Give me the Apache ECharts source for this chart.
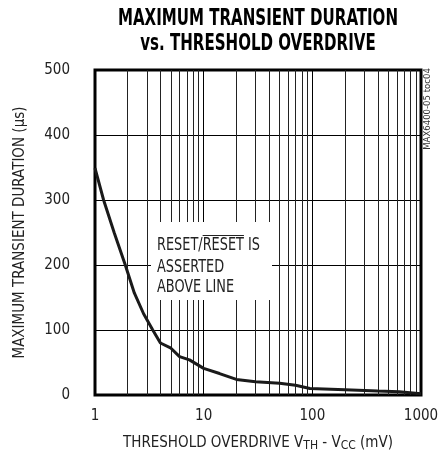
<!DOCTYPE html>
<html>
<head>
<meta charset="utf-8">
<script src="https://cdn.jsdelivr.net/npm/echarts@6/dist/echarts.min.js"></script>
<style>
html,body{margin:0;padding:0;background:#fff;}
#chart{width:442px;height:457px;}
</style>
</head>
<body>
<div id="chart"></div>
<script>
// ---- data ----
const overdrive = [1, 1.2, 1.5, 1.9, 2.3, 2.8, 3.4, 4, 5, 6, 7.4, 10, 14, 20, 30, 50, 70, 95, 200, 400, 630, 1000];
const duration  = [349, 300, 250, 200, 157, 125, 100, 80, 72, 59, 54, 41, 33, 24, 20.5, 18, 15, 10, 8, 6, 5, 2];
const minorLines = [2, 3, 4, 5, 6, 7, 8, 9, 20, 30, 40, 50, 60, 70, 80, 90, 200, 300, 400, 500, 600, 700, 800, 900];
const yTicks = [0, 100, 200, 300, 400, 500];
const xTicks = [1, 10, 100, 1000];
const titleLines = ['MAXIMUM TRANSIENT DURATION', 'vs. THRESHOLD OVERDRIVE'];
const noteLines = ['RESET/RESET IS', 'ASSERTED', 'ABOVE LINE'];
const yName = 'MAXIMUM TRANSIENT DURATION (\u00b5s)';
const sideNote = 'MAX6400-05 toc04';

const FONT = "'Liberation Sans Narrow', 'DejaVu Sans Condensed', 'Arial Narrow', sans-serif";

function measure(text, size, weight) {
  const c = document.createElement('canvas').getContext('2d');
  c.font = (weight || 'normal') + ' ' + size + 'px ' + FONT;
  return c.measureText(text).width;
}

// title: condensed look via horizontal scale
const titleSize = 23;
const titleScale = 280 / measure(titleLines[0], titleSize, 'bold');
// note box text
const noteX = 157, noteSize = 18;
const noteScale = 103 / measure(noteLines[0], noteSize);
const ovStart = noteX + measure('RESET/', noteSize) * noteScale;
const ovEnd = ovStart + measure('RESET', noteSize) * noteScale;

function noteText(i, y) {
  return {type: 'text', x: noteX, y: y, z: 101, scaleX: noteScale,
    style: {text: noteLines[i], fontSize: noteSize, fontFamily: FONT, fill: '#222', align: 'left', verticalAlign: 'middle'}};
}

const chart = echarts.init(document.getElementById('chart'), null, {renderer: 'canvas'});
chart.setOption({
  animation: false,
  backgroundColor: '#fff',
  grid: {left: 95, right: 21, top: 70, bottom: 62, show: true, borderColor: '#000', borderWidth: 3, backgroundColor: 'transparent'},
  xAxis: {
    type: 'log', logBase: 10, min: 1, max: 1000,
    axisLine: {show: false}, axisTick: {show: false},
    axisLabel: {fontSize: 15, color: '#222', margin: 14, fontFamily: FONT,
      formatter: function (v) { return String(Math.round(v)); }},
    splitLine: {show: true, lineStyle: {color: '#000', width: 1}},
    name: 'THRESHOLD OVERDRIVE V{sub|TH} - V{sub|CC} (mV)',
    nameLocation: 'middle', nameGap: 39,
    nameTextStyle: {fontSize: 15, color: '#222', fontFamily: FONT, lineHeight: 18,
      rich: {sub: {fontSize: 12, fontFamily: FONT, color: '#222', lineHeight: 12, verticalAlign: 'bottom', padding: [5, 0, 0, 0]}}}
  },
  yAxis: {
    type: 'value', min: 0, max: 500, interval: 100,
    axisLine: {show: false}, axisTick: {show: false},
    axisLabel: {fontSize: 15, color: '#222', margin: 25, fontFamily: FONT,
      formatter: function (v) { return yTicks.indexOf(v) >= 0 ? String(v) : ''; }},
    splitLine: {show: true, lineStyle: {color: '#000', width: 1}},
    name: yName, nameLocation: 'middle', nameGap: 67, nameRotate: 90,
    nameTextStyle: {fontSize: 15, color: '#222', fontFamily: FONT}
  },
  series: [{
    type: 'line',
    data: overdrive.map((x, i) => [x, duration[i]]),
    showSymbol: false, symbol: 'none',
    lineStyle: {color: '#1a1a1a', width: 3},
    z: 5,
    markLine: {
      silent: true, symbol: ['none', 'none'], label: {show: false},
      lineStyle: {color: '#222', width: 1, type: 'solid'},
      emphasis: {disabled: true},
      data: minorLines.map(v => ({xAxis: v}))
    }
  }],
  graphic: [
    {type: 'text', x: 258, y: 19, z: 100, scaleX: titleScale, style: {text: titleLines[0], fontSize: titleSize, fontWeight: 'bold', fontFamily: FONT, fill: '#000', align: 'center', verticalAlign: 'middle'}},
    {type: 'text', x: 258, y: 44, z: 100, scaleX: titleScale, style: {text: titleLines[1], fontSize: titleSize, fontWeight: 'bold', fontFamily: FONT, fill: '#000', align: 'center', verticalAlign: 'middle'}},
    {type: 'rect', z: 100, shape: {x: 151, y: 222, width: 121, height: 78}, style: {fill: '#fff'}},
    noteText(0, 245.5),
    noteText(1, 267),
    noteText(2, 287.5),
    {type: 'line', z: 101, shape: {x1: ovStart, y1: 235.5, x2: ovEnd, y2: 235.5}, style: {stroke: '#222', lineWidth: 1}},
    {type: 'text', x: 428, y: 109, rotation: Math.PI / 2, z: 100, style: {text: sideNote, fontSize: 9.5, fontFamily: FONT, fill: '#333', align: 'center', verticalAlign: 'middle'}}
  ]
});
</script>
</body>
</html>
